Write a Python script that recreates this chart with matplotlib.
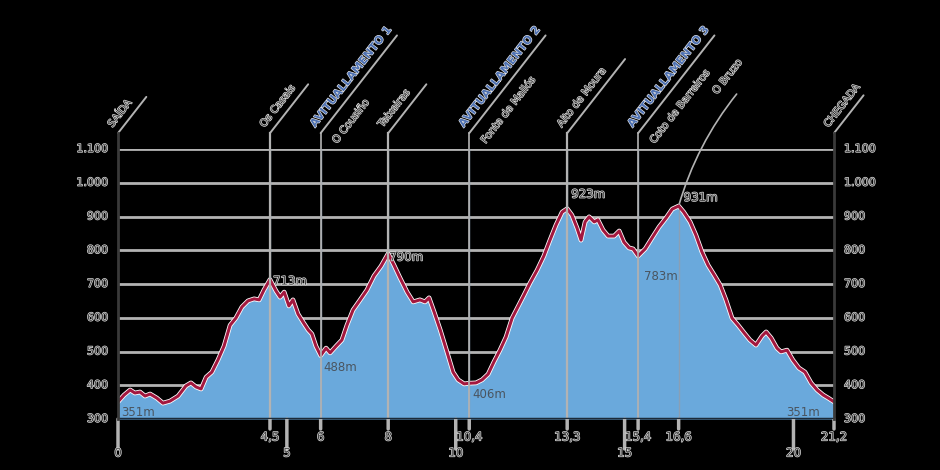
import numpy as np
import matplotlib
matplotlib.use("Agg")
import matplotlib.pyplot as plt
import matplotlib.patheffects as pe

# elevation profile (km, m)
km = [0.00, 0.18, 0.36, 0.50, 0.65, 0.80, 0.95, 1.15, 1.33, 1.54, 1.78, 2.01, 2.16, 2.31,
      2.46, 2.61, 2.78, 2.96, 3.14, 3.32, 3.49, 3.67, 3.85, 4.03, 4.18, 4.32, 4.50, 4.68,
      4.80, 4.92, 5.06, 5.18, 5.33, 5.48, 5.63, 5.74, 5.86, 6.00, 6.16, 6.28, 6.46, 6.63,
      6.78, 6.96, 7.17, 7.37, 7.58, 7.79, 8.00, 8.17, 8.35, 8.56, 8.74, 8.94, 9.09, 9.21,
      9.36, 9.54, 9.74, 9.92, 10.07, 10.25, 10.40, 10.60, 10.78, 10.96, 11.13, 11.31, 11.49,
      11.67, 11.84, 12.02, 12.20, 12.41, 12.61, 12.79, 12.97, 13.15, 13.30, 13.44, 13.59,
      13.71, 13.83, 13.95, 14.10, 14.21, 14.36, 14.51, 14.69, 14.84, 14.98, 15.13, 15.25,
      15.40, 15.61, 15.81, 16.02, 16.23, 16.41, 16.60, 16.75, 16.94, 17.11, 17.29, 17.47,
      17.65, 17.83, 18.00, 18.18, 18.36, 18.54, 18.71, 18.89, 19.07, 19.19, 19.34, 19.51,
      19.63, 19.81, 19.98, 20.16, 20.34, 20.52, 20.70, 20.88, 21.03, 21.20]
elev = [351, 371, 386, 377, 380, 368, 374, 362, 347, 353, 368, 398, 407, 395,
        389, 424, 439, 475, 516, 578, 599, 632, 650, 656, 653, 682, 713, 679,
        661, 676, 635, 653, 611, 587, 564, 552, 516, 488, 510, 496, 516, 534,
        578, 623, 653, 682, 724, 753, 790, 756, 718, 676, 647, 653, 647, 659,
        617, 564, 499, 439, 416, 404, 406, 407, 416, 433, 469, 504, 543,
        599, 632, 667, 703, 741, 783, 830, 875, 913, 923, 904, 866,
        830, 884, 899, 884, 890, 860, 842, 842, 857, 824, 807, 804,
        783, 804, 836, 869, 896, 922, 931, 913, 884, 845, 795, 756,
        727, 697, 653, 599, 578, 555, 534, 519, 546, 558, 540, 510,
        499, 504, 475, 451, 439, 407, 386, 371, 362, 351]

# points of interest
poi_km = [0, 4.5, 6, 8, 10.4, 13.3, 15.4, 16.6, 21.2]
poi_name = ["SAÍDA", "Os Casais", "O Cousiño", "Teixeiras", "Fonte de Mallós",
            "Alto de Moura", "Coto de Barreiros", "O Bruzo", "CHEGADA"]
poi_food = [None, None, "AVITUALLAMENTO 1", None, "AVITUALLAMENTO 2",
            None, "AVITUALLAMENTO 3", None, None]
poi_len = [46, 62, 124, 62, 124, 94, 124, 0, 48]

# elevation labels
lab_km = [0, 4.5, 6, 8, 10.4, 13.3, 15.4, 16.6, 21.2]
lab_elev = [351, 713, 488, 790, 406, 923, 783, 931, 351]

major_km = [0, 5, 10, 15, 20]
minor_km = [4.5, 6, 8, 10.4, 13.3, 15.4, 16.6, 21.2]
minor_txt = ["4,5", "6", "8", "10,4", "13,3", "15,4", "16,6", "21,2"]
yticks = [300, 400, 500, 600, 700, 800, 900, 1000, 1100]
ytxt = ["300", "400", "500", "600", "700", "800", "900", "1.000", "1.100"]

TXT = "#454545"
GRID = "#b3b3b3"
BLUE = "#4f72b3"
halo = [pe.withStroke(linewidth=0.9, foreground="#e6e6e6")]

fig = plt.figure(figsize=(9.4, 4.7), dpi=100, facecolor="black")
ax = fig.add_axes([118 / 940, 1 - 419 / 470, 716 / 940, 270 / 470])
ax.set_facecolor("black")
ax.set_xlim(0, 21.2)
ax.set_ylim(300, 1100)
for s in ax.spines.values():
    s.set_visible(False)
ax.set_xticks([])
ax.set_yticks([])

for y in yticks[1:]:
    ax.axhline(y, color=GRID, lw=2, zorder=1)

ax.fill_between(km, elev, 300, color="#6aa9dc", zorder=2, lw=0)
ax.plot(km, elev, color="white", lw=3.4, zorder=3, solid_joinstyle="round")
ax.plot(km, elev, color="#a3183f", lw=2.2, zorder=4, solid_joinstyle="round")
ax.axhline(300, color="#1c2b3a", lw=2.5, zorder=5)

top = 1147
ang = 52
for k, name, food, ln in zip(poi_km, poi_name, poi_food, poi_len):
    edge = k in (0, 21.2)
    if k != 16.6:
        ax.plot([k, k], [300, top], color="#3a3a3a" if edge else GRID,
                lw=2 if edge else 1.6 if k in (4.5, 8, 13.3) else 1.2,
                zorder=6 if edge else 4.5, clip_on=False)
        if not edge:
            ax.plot([k, k], [300, top], color="#8a9fb5", lw=1, zorder=3.5)
        x0, y0 = k, top
        dx, dy = ln * np.cos(np.radians(ang)), ln * np.sin(np.radians(ang))
        ax.annotate("", xy=(x0, y0), xytext=(dx, dy), textcoords="offset pixels",
                    arrowprops=dict(arrowstyle="-", color=GRID, lw=1.4,
                                    shrinkA=0, shrinkB=0), annotation_clip=False)
        anchor_off = (-4, 4)
    else:
        ax.plot([k, k], [300, 931], color="#8a9fb5", lw=1, zorder=3.5)
        x0, y0 = k, 931
        ax.annotate("", xy=(x0, y0), xytext=(58, 112), textcoords="offset pixels",
                    arrowprops=dict(arrowstyle="-", color=GRID, lw=1.2,
                                    connectionstyle="arc3,rad=0.1",
                                    shrinkA=0, shrinkB=0), annotation_clip=False)
        ax.annotate(name, xy=(x0, y0), xytext=(40, 110), textcoords="offset pixels",
                    rotation=ang, rotation_mode="anchor", ha="left", va="bottom",
                    fontsize=7.5, color=TXT, path_effects=halo, annotation_clip=False)
        continue
    if food:
        ax.annotate(food, xy=(x0, y0), xytext=anchor_off, textcoords="offset pixels",
                    rotation=ang, rotation_mode="anchor", ha="left", va="bottom",
                    fontsize=8, fontweight="bold", color=BLUE,
                    path_effects=halo, annotation_clip=False)
        ax.annotate(name, xy=(x0, y0), xytext=(10, -6), textcoords="offset pixels",
                    rotation=ang, rotation_mode="anchor", ha="left", va="top",
                    fontsize=7.5, color=TXT, path_effects=halo, annotation_clip=False)
    else:
        ax.annotate(name, xy=(x0, y0), xytext=anchor_off, textcoords="offset pixels",
                    rotation=ang, rotation_mode="anchor", ha="left", va="bottom",
                    fontsize=7.5, color=TXT, path_effects=halo, annotation_clip=False)

# elevation labels
offs = {0: (3, -4, "top"), 4.5: (3, -8, "bottom"), 6: (3, -5, "top"), 8: (1, -10, "bottom"),
        10.4: (3, -5, "top"), 13.3: (4, 8, "bottom"), 15.4: (6, -14, "top"),
        16.6: (5, 2, "bottom"), 21.2: (-48, -4, "top")}
for k, e in zip(lab_km, lab_elev):
    dx, dy, va = offs[k]
    outside = va == "bottom"
    ax.annotate(f"{e}m", xy=(k, e), xytext=(dx, dy), textcoords="offset pixels",
                ha="left", va=va, fontsize=8.5, color="#4a5560" if not outside else TXT,
                path_effects=halo if outside else None, zorder=7)

# y tick labels
for y, t in zip(yticks, ytxt):
    ax.annotate(t, xy=(0, y), xytext=(-10, 0), textcoords="offset pixels",
                ha="right", va="center", fontsize=8, color=TXT, path_effects=halo,
                annotation_clip=False)
    ax.annotate(t, xy=(21.2, y), xytext=(10, 0), textcoords="offset pixels",
                ha="left", va="center", fontsize=8, color=TXT, path_effects=halo,
                annotation_clip=False)

# x ticks
for k in major_km:
    ax.annotate("", xy=(k, 300), xytext=(0, -30), textcoords="offset pixels",
                arrowprops=dict(arrowstyle="-", color=GRID, lw=2.5, shrinkA=0, shrinkB=0),
                annotation_clip=False)
    ax.annotate(str(k), xy=(k, 300), xytext=(0, -34), textcoords="offset pixels",
                ha="center", va="center", fontsize=8.5, color=TXT, path_effects=halo,
                annotation_clip=False)
for k, t in zip(minor_km, minor_txt):
    ax.annotate("", xy=(k, 300), xytext=(0, -10), textcoords="offset pixels",
                arrowprops=dict(arrowstyle="-", color=GRID, lw=2.5, shrinkA=0, shrinkB=0),
                annotation_clip=False)
    ax.annotate(t, xy=(k, 300), xytext=(0, -18), textcoords="offset pixels",
                ha="center", va="center", fontsize=8.5, color=TXT, path_effects=halo,
                annotation_clip=False)

fig.savefig("out.png", dpi=100, facecolor="black")
